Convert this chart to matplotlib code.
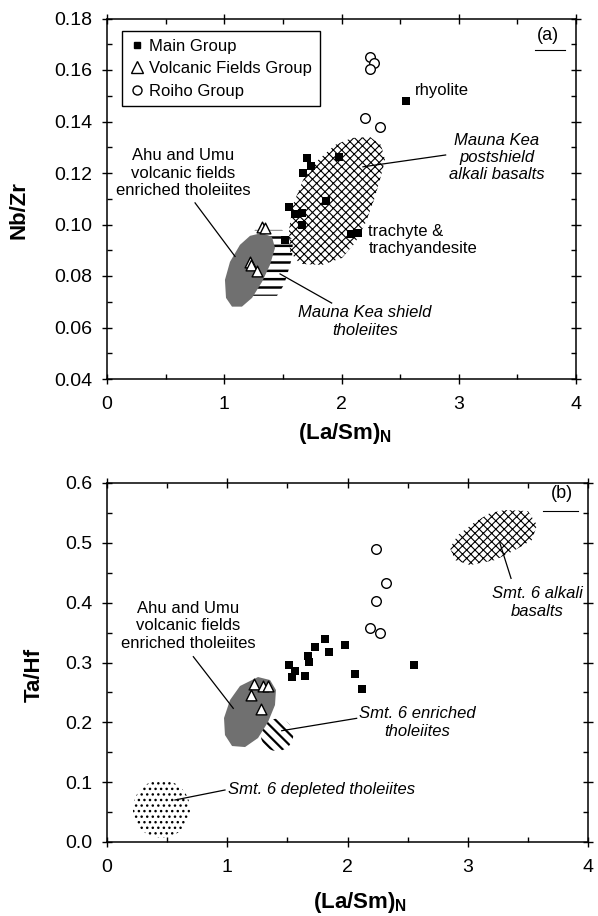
import matplotlib
matplotlib.use('Agg')
from matplotlib import pyplot as plt
from matplotlib.patches import Polygon, Ellipse
from matplotlib.lines import Line2D
from matplotlib.ticker import MultipleLocator, FormatStrFormatter

plt.rcParams['font.family'] = ['Liberation Sans', 'DejaVu Sans']
plt.rcParams['mathtext.fontset'] = 'custom'
plt.rcParams['mathtext.rm'] = 'Liberation Sans'
plt.rcParams['mathtext.bf'] = 'Liberation Sans:bold'
plt.rcParams['mathtext.it'] = 'Liberation Sans:italic'
plt.rcParams['hatch.linewidth'] = 1.0

# ---- panel (a): Nb/Zr vs (La/Sm)N ----
main_a_x = [2.55, 1.71, 1.74, 1.98, 1.67, 1.87, 1.55, 1.60, 1.66, 1.66, 2.08, 2.14, 1.52]
main_a_y = [0.148, 0.1257, 0.1227, 0.1263, 0.1201, 0.1091, 0.1067, 0.1041, 0.1046, 0.0998, 0.0962, 0.0966, 0.094]
roiho_a_x = [2.24, 2.28, 2.24, 2.20, 2.33]
roiho_a_y = [0.165, 0.1626, 0.1604, 0.1415, 0.138]
vf_a_x = [1.32, 1.35, 1.22, 1.23, 1.28]
vf_a_y = [0.0989, 0.0985, 0.0856, 0.0843, 0.0819]

# field outlines
postshield_x = [2.090, 2.243, 2.337, 2.371, 2.328, 2.277, 2.209, 2.115, 2.004, 1.834,
                1.646, 1.561, 1.552, 1.586, 1.672, 1.800, 1.945]
postshield_y = [0.1336, 0.1340, 0.1309, 0.1250, 0.1173, 0.1095, 0.1010, 0.0928, 0.0870, 0.0843,
                0.0847, 0.0894, 0.0979, 0.1076, 0.1173, 0.1250, 0.1309]
ahu_a_x = [1.322, 1.407, 1.433, 1.390, 1.322, 1.237, 1.151, 1.066, 1.015, 1.006, 1.049, 1.134, 1.22]
ahu_a_y = [0.0967, 0.0952, 0.0909, 0.0843, 0.0777, 0.0715, 0.0681, 0.0681, 0.0715, 0.0785, 0.0855, 0.0921, 0.0956]
shield_x = [1.262, 1.493, 1.586, 1.578, 1.544, 1.51, 1.45, 1.177, 1.134]
shield_y = [0.0979, 0.0979, 0.0940, 0.0870, 0.0816, 0.0766, 0.0723, 0.0723, 0.0863]

# ---- panel (b): Ta/Hf vs (La/Sm)N ----
main_b_x = [1.81, 1.73, 1.98, 1.85, 1.67, 1.68, 1.51, 1.56, 1.54, 1.65, 2.06, 2.12, 2.55]
main_b_y = [0.339, 0.326, 0.330, 0.318, 0.311, 0.301, 0.296, 0.285, 0.275, 0.277, 0.280, 0.255, 0.296]
roiho_b_x = [2.24, 2.32, 2.24, 2.19, 2.27]
roiho_b_y = [0.489, 0.433, 0.403, 0.358, 0.349]
vf_b_x = [1.22, 1.30, 1.34, 1.20, 1.28]
vf_b_y = [0.264, 0.261, 0.261, 0.245, 0.223]

ahu_b_x = [1.256, 1.356, 1.405, 1.397, 1.339, 1.256, 1.148, 1.040, 0.981, 0.973, 1.023, 1.106]
ahu_b_y = [0.2757, 0.2707, 0.2540, 0.2289, 0.2005, 0.1738, 0.1587, 0.1604, 0.1788, 0.2072, 0.2373, 0.2607]
alkali_x = [3.310, 3.501, 3.576, 3.534, 3.393, 3.227, 3.019, 2.894, 2.852, 2.919, 3.060, 3.185]
alkali_y = [0.5548, 0.5531, 0.5297, 0.5046, 0.4879, 0.4712, 0.4629, 0.4712, 0.4913, 0.5130, 0.5347, 0.5498]
enriched_xy = (1.414, 0.179)
enriched_wh = (0.27, 0.054)
depleted_xy = (0.453, 0.0551)
depleted_wh = (0.474, 0.097)


def field(ax, xs, ys, hatch=None, face='none', hlw=1.0, z=1):
    p = Polygon(list(zip(xs, ys)), closed=True, facecolor=face, edgecolor='k',
                linewidth=0, hatch=hatch, zorder=z)
    if hatch and hasattr(p, 'set_hatch_linewidth'):
        p.set_hatch_linewidth(hlw)
    ax.add_patch(p)
    return p


def points(ax, mx, my, tx, ty, cx, cy):
    ax.scatter(mx, my, marker='s', s=28, c='k', linewidths=0, zorder=4)
    ax.scatter(tx, ty, marker='^', s=60, facecolors='w', edgecolors='k', linewidths=1, zorder=4)
    ax.scatter(cx, cy, marker='o', s=48, facecolors='w', edgecolors='k', linewidths=1, zorder=4)


def style(ax, ymajor, yminor, yfmt):
    ax.set_xlim(0, 4)
    ax.xaxis.set_major_locator(MultipleLocator(1))
    ax.xaxis.set_minor_locator(MultipleLocator(0.5))
    ax.yaxis.set_major_locator(MultipleLocator(ymajor))
    ax.yaxis.set_minor_locator(MultipleLocator(yminor))
    ax.yaxis.set_major_formatter(FormatStrFormatter(yfmt))
    ax.tick_params(which='major', direction='inout', length=7, width=1,
                   top=True, right=True, labelsize=14)
    ax.tick_params(which='minor', direction='in', length=3.5, width=1,
                   top=True, right=True)
    ax.tick_params(axis='x', which='major', pad=9)
    ax.tick_params(axis='y', which='major', pad=7)
    for s in ax.spines.values():
        s.set_linewidth(1.1)


def leader(ax, x0, y0, x1, y1):
    ax.plot([x0, x1], [y0, y1], color='k', lw=0.9, zorder=3)


fig = plt.figure(figsize=(5.98, 9.16), dpi=100)
ax_a = fig.add_axes([107 / 598, 1 - 379 / 916, 469 / 598, 360.5 / 916])
ax_b = fig.add_axes([107 / 598, 1 - 842 / 916, 481 / 598, 359 / 916])

# ---------- (a) ----------
field(ax_a, shield_x, shield_y, hatch='--', hlw=1.8, z=1)
field(ax_a, postshield_x, postshield_y, hatch='xxxx', hlw=0.8, z=1)
field(ax_a, ahu_a_x, ahu_a_y, face='#707070', z=2)
points(ax_a, main_a_x, main_a_y, vf_a_x, vf_a_y, roiho_a_x, roiho_a_y)
style(ax_a, 0.02, 0.01, '%.2f')
ax_a.set_ylim(0.04, 0.18)

ax_a.text(0.648, 0.12, 'Ahu and Umu\nvolcanic fields\nenriched tholeiites',
          ha='center', va='center', fontsize=12)
leader(ax_a, 0.751, 0.1084, 1.092, 0.0876)
ax_a.text(2.627, 0.1519, 'rhyolite', ha='left', va='center', fontsize=12)
ax_a.text(3.323, 0.126, 'Mauna Kea\npostshield\nalkali basalts', style='italic',
          ha='center', va='center', fontsize=12)
leader(ax_a, 2.888, 0.127, 2.183, 0.1224)
ax_a.text(2.229, 0.094, 'trachyte &\ntrachyandesite', ha='left', va='center', fontsize=12)
ax_a.text(2.20, 0.0624, 'Mauna Kea shield\ntholeiites', style='italic',
          ha='center', va='center', fontsize=12)
leader(ax_a, 1.476, 0.0808, 1.916, 0.0695)
ax_a.text(0.940, 0.954, '(a)', transform=ax_a.transAxes, ha='center', va='center', fontsize=13)
ax_a.plot([0.913, 0.977], [0.913, 0.913], transform=ax_a.transAxes, color='k', lw=0.8)

handles = [
    Line2D([], [], ls='none', marker='s', ms=5, mfc='k', mec='k'),
    Line2D([], [], ls='none', marker='^', ms=9, mfc='w', mec='k', mew=1),
    Line2D([], [], ls='none', marker='o', ms=6.5, mfc='w', mec='k', mew=1),
]
leg = ax_a.legend(handles, ['Main Group', 'Volcanic Fields Group', 'Roiho Group'],
                  loc='upper left', bbox_to_anchor=(0.033, 0.965), borderaxespad=0,
                  fontsize=12, frameon=True, fancybox=False, edgecolor='k',
                  framealpha=1, handlelength=0.8, handletextpad=0.35,
                  labelspacing=0.45, borderpad=0.45)
leg.get_frame().set_linewidth(1.0)

ax_a.set_ylabel('Nb/Zr', fontsize=16, fontweight='bold')
ax_a.set_xlabel(r'(La/Sm)$_{\mathbf{N}}$', fontsize=16, fontweight='bold')
ax_a.yaxis.set_label_coords(-0.166, 0.469)
ax_a.xaxis.set_label_coords(0.507, -0.117)

# ---------- (b) ----------
en = Ellipse(enriched_xy, enriched_wh[0], enriched_wh[1], facecolor='none',
             edgecolor='k', linewidth=0, hatch='\\\\\\', zorder=1)
if hasattr(en, 'set_hatch_linewidth'):
    en.set_hatch_linewidth(1.6)
ax_b.add_patch(en)
dp = Ellipse(depleted_xy, depleted_wh[0], depleted_wh[1], facecolor='none',
             edgecolor='k', linewidth=0, hatch='...', zorder=1)
ax_b.add_patch(dp)
field(ax_b, alkali_x, alkali_y, hatch='xxxx', hlw=0.8, z=1)
field(ax_b, ahu_b_x, ahu_b_y, face='#707070', z=2)
points(ax_b, main_b_x, main_b_y, vf_b_x, vf_b_y, roiho_b_x, roiho_b_y)
style(ax_b, 0.1, 0.05, '%.1f')
ax_b.set_ylim(0.0, 0.6)

ax_b.text(0.945, 0.971, '(b)', transform=ax_b.transAxes, ha='center', va='center', fontsize=13)
ax_b.plot([0.906, 0.979], [0.923, 0.923], transform=ax_b.transAxes, color='k', lw=0.8)
ax_b.text(3.58, 0.400, 'Smt. 6 alkali\nbasalts', style='italic',
          ha='center', va='center', fontsize=12)
leader(ax_b, 3.36, 0.4406, 3.268, 0.4991)
ax_b.text(0.676, 0.3613, 'Ahu and Umu\nvolcanic fields\nenriched tholeiites',
          ha='center', va='center', fontsize=12)
leader(ax_b, 0.718, 0.3097, 1.05, 0.2234)
ax_b.text(2.582, 0.1997, 'Smt. 6 enriched\ntholeiites', style='italic',
          ha='center', va='center', fontsize=12)
leader(ax_b, 2.076, 0.2067, 1.453, 0.186)
ax_b.text(1.782, 0.088, 'Smt. 6 depleted tholeiites', style='italic',
          ha='center', va='center', fontsize=12)
leader(ax_b, 0.981, 0.0869, 0.565, 0.0702)

ax_b.set_ylabel('Ta/Hf', fontsize=16, fontweight='bold')
ax_b.set_xlabel(r'(La/Sm)$_{\mathbf{N}}$', fontsize=16, fontweight='bold')
ax_b.yaxis.set_label_coords(-0.129, 0.465)
ax_b.xaxis.set_label_coords(0.526, -0.134)

plt.savefig('out.png', dpi=100)
